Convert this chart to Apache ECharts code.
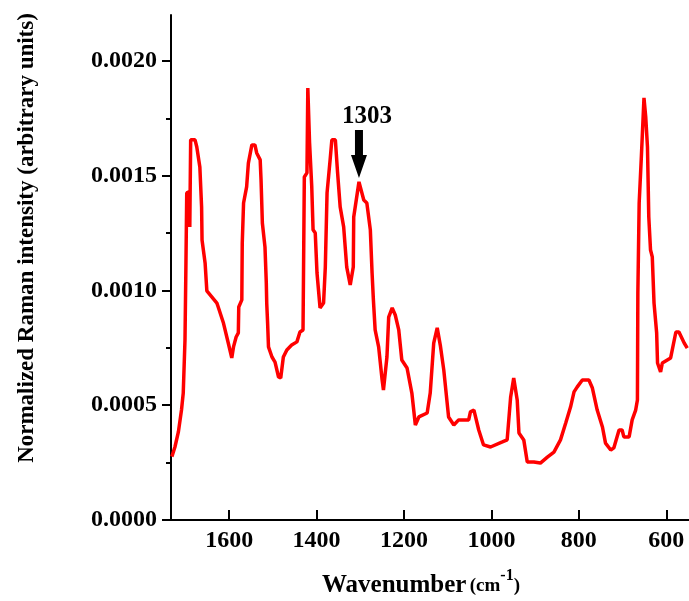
<!DOCTYPE html>
<html>
<head>
<meta charset="utf-8">
<script src="https://cdn.jsdelivr.net/npm/echarts@6/dist/echarts.min.js"></script>
<style>
  html, body { margin: 0; padding: 0; background: #fff; }
  #chart { width: 689px; height: 601px; }
</style>
</head>
<body>
<div id="chart"></div>
<script>
// Spectrum (wavenumber in cm-1, intensity in arbitrary units)
const wavenumber = [
  1731, 1724, 1716, 1709, 1705, 1701, 1699, 1697, 1692, 1690,
  1688, 1686, 1678, 1674, 1667, 1663, 1662, 1655, 1651, 1628,
  1625, 1613, 1602, 1594, 1590, 1584, 1579, 1578, 1571, 1570.5,
  1570, 1567, 1560, 1556, 1548, 1541, 1537, 1529, 1527, 1524,
  1518, 1515, 1514, 1512, 1510, 1502, 1495, 1487, 1482, 1476,
  1468, 1457, 1445, 1438, 1431, 1430, 1428, 1422, 1420, 1416,
  1411, 1408, 1403, 1399, 1392, 1384, 1380, 1376, 1369, 1365,
  1357, 1352, 1346, 1338, 1331, 1323, 1316, 1315, 1303, 1292,
  1285, 1277, 1273, 1270, 1266, 1258, 1250, 1247, 1239, 1235,
  1227, 1220, 1212, 1205, 1193, 1182, 1174, 1166, 1147, 1140,
  1132, 1124, 1117, 1109, 1098, 1086, 1075, 1052, 1048, 1040,
  1029, 1018, 1002, 975, 964, 956, 949, 941, 937, 926,
  918, 903, 888, 872, 857, 842, 830, 819, 811, 804,
  792, 777, 769, 758, 746, 739, 727, 720, 708, 701,
  697, 685, 678, 670, 666, 665, 662, 657, 651, 647,
  643, 640, 636, 632, 628, 622, 620, 613, 609, 590,
  578, 571, 559, 552
];
const intensity = [
  0.000276, 0.000318, 0.000385, 0.000479, 0.000553, 0.000784, 0.001089, 0.001425, 0.001429, 0.001277,
  0.001656, 0.001664, 0.001656, 0.001625, 0.001538, 0.001364, 0.001220, 0.001120, 0.000998, 0.000945,
  0.000928, 0.000858, 0.000771, 0.000706, 0.000754, 0.000797, 0.000815, 0.000928, 0.000959, 0.001089,
  0.001207, 0.001381, 0.001451, 0.001555, 0.001634, 0.001634, 0.001599, 0.001569, 0.001481, 0.001294,
  0.001189, 0.001033, 0.000945, 0.000858, 0.000754, 0.000710, 0.000688, 0.000623, 0.000619, 0.000710,
  0.000741, 0.000762, 0.000776, 0.000819, 0.000828, 0.001046, 0.001494, 0.001512, 0.001882, 0.001643,
  0.001451, 0.001264, 0.001250, 0.001076, 0.000924, 0.000945, 0.001102, 0.001425, 0.001569, 0.001656,
  0.001656, 0.001516, 0.001364, 0.001277, 0.001102, 0.001024, 0.001102, 0.001320, 0.001473, 0.001394,
  0.001381, 0.001264, 0.001076, 0.000959, 0.000828, 0.000754, 0.000610, 0.000566, 0.000710, 0.000884,
  0.000924, 0.000893, 0.000828, 0.000697, 0.000662, 0.000553, 0.000414, 0.000449, 0.000466, 0.000553,
  0.000771, 0.000837, 0.000762, 0.000654, 0.000449, 0.000414, 0.000436, 0.000436, 0.000471, 0.000479,
  0.000392, 0.000327, 0.000318, 0.000340, 0.000349, 0.000536, 0.000619, 0.000523, 0.000379, 0.000349,
  0.000253, 0.000253, 0.000248, 0.000274, 0.000296, 0.000349, 0.000423, 0.000492, 0.000558, 0.000579,
  0.000610, 0.000610, 0.000575, 0.000479, 0.000405, 0.000335, 0.000305, 0.000314, 0.000392, 0.000392,
  0.000362, 0.000362, 0.000436, 0.000479, 0.000523, 0.000989, 0.001381, 0.001582, 0.001839, 0.001756,
  0.001625, 0.001320, 0.001176, 0.001146, 0.000945, 0.000815, 0.000684, 0.000645, 0.000684, 0.000706,
  0.000819, 0.000819, 0.000771, 0.000749
];

// Tick positions
const xTicks = [600, 800, 1000, 1200, 1400, 1600];
const yTicks = [0, 0.0005, 0.0010, 0.0015, 0.0020];
const yMinorTicks = [0.00025, 0.00075, 0.00125, 0.00175];

// Annotated band
const peakLabel = '1303';
const peakWavenumber = 1303;

const FONT = '"Liberation Serif", "Times New Roman", serif';

const chart = echarts.init(document.getElementById('chart'));

const points = wavenumber.map((w, i) => [w, intensity[i]]);

chart.setOption({
    animation: false,
    backgroundColor: '#fff',
    grid: { left: 171, right: 0, top: 15, bottom: 81, containLabel: false },
    xAxis: {
        type: 'value',
        inverse: true,
        min: 548,
        max: 1733,
        axisLine: { show: true, onZero: false, lineStyle: { color: '#000', width: 2 } },
        axisTick: { show: true, inside: true, length: 10, customValues: xTicks, lineStyle: { color: '#000', width: 2 } },
        axisLabel: {
            customValues: xTicks,
            margin: 9,
            color: '#000',
            fontFamily: FONT,
            fontWeight: 'bold',
            fontSize: 24,
            formatter: v => String(v)
        },
        splitLine: { show: false }
    },
    yAxis: [{
        type: 'value',
        min: 0,
        max: 0.0022,
        axisLine: { show: true, lineStyle: { color: '#000', width: 2 } },
        axisTick: { show: true, length: 9, customValues: yTicks, lineStyle: { color: '#000', width: 2 } },
        axisLabel: {
            customValues: yTicks,
            margin: 14,
            color: '#000',
            fontFamily: FONT,
            fontWeight: 'bold',
            fontSize: 24,
            formatter: v => v.toFixed(4)
        },
        splitLine: { show: false }
    }, {
        // minor ticks only
        type: 'value',
        position: 'left',
        min: 0,
        max: 0.0022,
        axisLine: { show: false },
        axisTick: { show: true, length: 5, customValues: yMinorTicks, lineStyle: { color: '#000', width: 2 } },
        axisLabel: { show: false },
        splitLine: { show: false }
    }],
    series: [{
        type: 'line',
        data: points,
        showSymbol: false,
        smooth: false,
        clip: true,
        lineStyle: { color: '#ff0000', width: 3.5 },
        itemStyle: { color: '#ff0000' }
    }]
});

// Axis titles and the arrow annotation
const peakIdx = wavenumber.indexOf(peakWavenumber);
const tip = chart.convertToPixel({ gridIndex: 0 }, [peakWavenumber, intensity[peakIdx]]);
const tx = tip[0], ty = tip[1] - 4;

chart.setOption({
    graphic: [{
        type: 'text',
        x: 27,
        y: 238,
        rotation: Math.PI / 2,
        style: {
            text: 'Normalized Raman intensity (arbitrary units)',
            fill: '#000',
            font: 'bold 23px ' + FONT,
            align: 'center',
            verticalAlign: 'middle'
        }
    }, {
        type: 'text',
        x: 421,
        y: 583,
        style: {
            text: '{a|Wavenumber} {b|(cm}{c|-1}{b|)}',
            align: 'center',
            verticalAlign: 'middle',
            rich: {
                a: { font: 'bold 25px ' + FONT, fill: '#000', lineHeight: 30, verticalAlign: 'bottom' },
                b: { font: 'bold 19px ' + FONT, fill: '#000', lineHeight: 30, verticalAlign: 'bottom', padding: [0, 0, 2, 0] },
                c: { font: 'bold 16px ' + FONT, fill: '#000', lineHeight: 30, verticalAlign: 'top' }
            }
        }
    }, {
        type: 'polygon',
        shape: {
            points: [
                [tx - 4, ty - 48], [tx + 4, ty - 48], [tx + 4, ty - 23],
                [tx + 8, ty - 23], [tx, ty], [tx - 8, ty - 23], [tx - 4, ty - 23]
            ]
        },
        style: { fill: '#000' }
    }, {
        type: 'text',
        x: tx + 8,
        y: ty - 61,
        style: {
            text: peakLabel,
            fill: '#000',
            font: 'bold 25px ' + FONT,
            align: 'center',
            verticalAlign: 'middle'
        }
    }]
});

window.addEventListener('resize', function() {
    chart.resize();
});
</script>
</body>
</html>
